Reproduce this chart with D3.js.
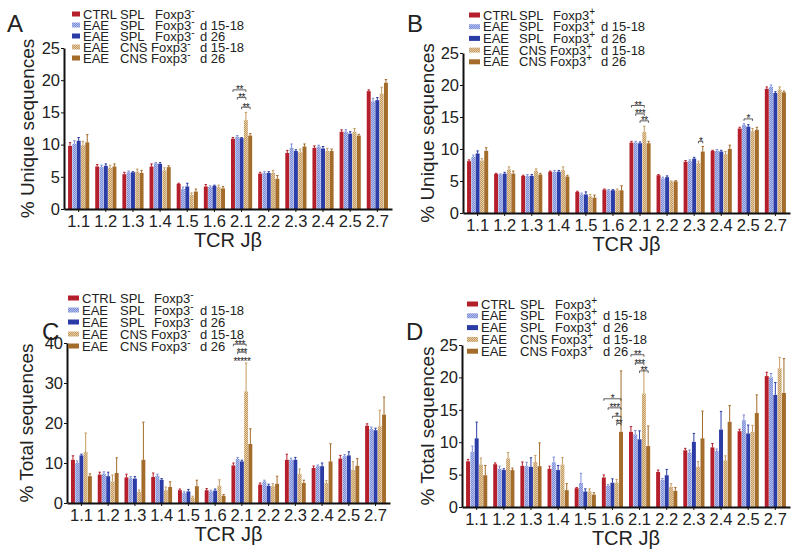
<!DOCTYPE html>
<html><head><meta charset="utf-8">
<script src="https://cdn.jsdelivr.net/npm/d3@7"></script>
<style>
body{margin:0;background:#fff}
text{font-family:"Liberation Sans",Arial,sans-serif;fill:#222}
</style>
</head><body>
<svg id="chart" width="800" height="556"></svg>
<script>
// ---------- DATA ----------
const groups = ["1.1","1.2","1.3","1.4","1.5","1.6","2.1","2.2","2.3","2.4","2.5","2.7"];
const seriesKeys = ["ctrl","eaeSpl1518","eaeSpl26","eaeCns1518","eaeCns26"];
const legendCol1 = ["CTRL","EAE","EAE","EAE","EAE"];
const legendCol2 = ["SPL","SPL","SPL","CNS","CNS"];
const legendCol4 = ["","d 15-18","d 26","d 15-18","d 26"];
const ticksUniqueA = [0,5,10,15,20,25];
const ticksUniqueB = [0,5,10,15,20,25];
const ticksTotalC = [0,10,20,30,40];
const ticksTotalD = [0,5,10,15,20,25];

// Panel A: % Unique sequences, Foxp3-
const A_ctrl  = [9.8,6.6,5.4,6.6,3.9,3.5,10.9,5.5,8.7,9.5,12.0,18.3];
const A_spl1518 = [10.1,6.5,5.7,7.1,3.1,3.4,11.2,5.6,9.5,9.7,12.0,16.7];
const A_spl26 = [10.6,6.7,5.7,7.0,3.5,3.6,11.0,5.6,9.0,9.4,11.7,16.9];
const A_cns1518 = [9.9,6.4,5.8,6.0,2.2,3.4,13.8,5.6,8.8,9.0,12.0,17.9];
const A_cns26 = [10.35,6.6,5.6,6.5,2.7,3.2,11.4,4.7,9.7,9.0,11.4,19.6];
const A_ctrlErr = [0.5,0.3,0.3,0.4,0.1,0.3,0.2,0.2,0.4,0.3,0.3,0.2];
const A_spl1518Err = [0.5,0.3,0.2,0.1,0.3,0.2,0.2,0.2,0.6,0.2,0.3,0.5];
const A_spl26Err = [0.5,0.3,0.1,0.2,0.5,0.1,0.1,0.2,0.2,0.3,0.3,0.4];
const A_cns1518Err = [0.6,0.4,0.4,0.4,0.3,0.3,1.2,0.4,0.5,0.4,0.5,1.0];
const A_cns26Err = [1.2,0.4,0.4,0.2,0.4,0.3,0.3,0.5,0.4,0.3,0.2,0.5];
const A_sig = [["2.1",0,3,"**",18.5],["2.1",1,3,"**",17.3],["2.1",2,4,"**",15.8]];

// Panel B: % Unique sequences, Foxp3+
const B_ctrl  = [8.1,6.1,5.8,6.45,3.3,3.65,11.0,5.9,8.0,9.7,13.2,19.4];
const B_spl1518 = [8.75,6.0,5.8,6.45,2.9,3.55,11.0,5.4,8.1,9.7,13.75,19.7];
const B_spl26 = [9.3,6.15,5.8,6.45,2.9,3.55,10.9,5.6,8.5,9.6,13.5,18.75];
const B_cns1518 = [8.2,6.8,6.6,6.7,2.6,3.55,12.65,4.9,7.8,9.2,12.8,19.3];
const B_cns26 = [9.7,6.15,6.0,5.7,2.4,3.55,10.9,4.95,9.6,10.0,13.0,18.85];
const B_ctrlErr = [0.2,0.1,0.1,0.1,0.1,0.1,0.2,0.1,0.2,0.1,0.2,0.3];
const B_spl1518Err = [0.3,0.1,0.2,0.2,0.2,0.1,0.2,0.2,0.2,0.2,0.2,0.3];
const B_spl26Err = [0.4,0.2,0.2,0.2,0.4,0.1,0.2,0.2,0.2,0.2,0.3,0.2];
const B_cns1518Err = [0.3,0.4,0.3,0.5,0.3,0.2,0.9,0.1,0.3,0.4,0.4,0.4];
const B_cns26Err = [0.5,0.4,0.2,0.2,0.4,0.7,0.3,0.1,0.8,0.6,0.4,0.2];
const B_sig = [["2.1",0,3,"**",16.8],["2.1",1,3,"***",15.5],["2.1",2,4,"**",14.4],["2.3",3,4,"*",11.2],["2.5",1,3,"*",14.7]];

// Panel C: % Total sequences, Foxp3-
const C_ctrl  = [10.8,7.1,6.4,6.5,3.2,3.2,9.4,4.6,10.8,8.75,11.1,19.3];
const C_spl1518 = [10.0,7.3,6.2,6.8,2.5,2.9,11.0,5.4,10.8,9.2,11.7,18.5];
const C_spl26 = [11.9,6.7,6.1,5.8,2.9,3.1,10.4,4.3,10.8,9.2,11.9,18.2];
const C_cns1518 = [12.75,5.4,2.75,3.2,1.4,4.3,27.9,4.2,7.3,5.0,8.3,19.2];
const C_cns26 = [6.7,7.5,10.8,4.0,4.2,1.8,14.75,4.8,5.0,10.4,9.3,22.1];
const C_ctrlErr = [1.0,0.6,0.8,1.0,0.3,0.4,0.6,0.4,1.4,0.5,0.8,0.5];
const C_spl1518Err = [0.5,0.5,0.4,0.4,0.3,0.3,0.4,0.3,0.4,0.3,0.4,0.5];
const C_spl26Err = [0.3,1.0,0.5,0.3,0.5,0.4,0.3,0.4,0.6,0.8,0.9,0.5];
const C_cns1518Err = [4.75,1.6,0.5,0.8,0.3,1.5,7.1,0.6,1.2,0.6,2.0,4.0];
const C_cns26Err = [0.6,3.8,9.4,1.3,1.5,0.3,3.8,1.9,0.7,4.4,1.8,4.4];
const C_sig = [["2.1",0,3,"***",39.7],["2.1",1,3,"***",37.7],["2.1",0,4,"*****",35.3,false]];

// Panel D: % Total sequences, Foxp3+
const D_ctrl  = [7.05,6.6,6.35,5.9,2.9,4.55,11.6,5.4,8.75,9.2,11.7,20.2];
const D_spl1518 = [8.5,5.9,6.3,6.9,3.7,3.25,11.2,4.2,8.4,8.65,13.4,20.0];
const D_spl26 = [10.6,5.7,6.2,5.7,2.4,3.75,10.45,4.9,10.05,11.95,11.35,17.3];
const D_cns1518 = [6.55,7.5,6.95,6.55,2.4,3.75,17.5,3.1,6.2,7.2,11.6,21.4];
const D_cns26 = [4.9,5.7,6.3,2.6,1.9,11.6,9.4,2.5,10.6,13.15,14.5,17.6];
const D_ctrlErr = [0.3,0.2,0.6,0.4,0.1,0.4,0.8,0.3,0.3,0.6,0.3,0.6];
const D_spl1518Err = [0.9,0.4,0.6,0.8,1.5,0.2,0.6,0.2,0.4,0.3,0.8,0.6];
const D_spl26Err = [2.5,0.2,1.4,0.7,0.4,0.6,1.3,0.9,1.3,2.8,1.3,1.9];
const D_cns1518Err = [1.0,0.9,1.0,1.1,0.4,0.5,3.6,0.5,0.8,0.7,1.0,1.7];
const D_cns26Err = [1.5,0.3,3.6,1.0,0.3,9.4,3.1,0.5,4.2,2.5,2.8,5.3];
const D_sig = [["1.6",0,4,"*",16.7],["1.6",1,4,"***",15.3],["1.6",2,4,"*",14.0],["1.6",3,4,"**",12.9],
               ["2.1",0,3,"**",23.5],["2.1",1,3,"***",22.2],["2.1",2,4,"**",21.0]];

// ---------- STYLE ----------
const svg = d3.select("#chart");
const defs = svg.append("defs");
function checker(id, base, light){
  const p = defs.append("pattern").attr("id",id).attr("patternUnits","userSpaceOnUse").attr("width",2).attr("height",2);
  p.append("rect").attr("width",2).attr("height",2).attr("fill",base);
  p.append("rect").attr("width",1).attr("height",1).attr("fill",light);
  p.append("rect").attr("x",1).attr("y",1).attr("width",1).attr("height",1).attr("fill",light);
}
checker("patBlue","#7a8cd6","#b4c0ee");
checker("patTan","#c39a5f","#e4cda6");
const fills = ["#b51f2c","url(#patBlue)","#2b3ca6","url(#patTan)","#a46c2a"];
const lineCols = ["#b51f2c","#7a8cd6","#2b3ca6","#c39a5f","#a46c2a"];

function drawPanel(cfg){
  const g = svg.append("g");
  const x = d3.scaleBand().domain(groups).range([cfg.x0,cfg.x1]).paddingInner(0.22).paddingOuter(0.15);
  const xs = d3.scaleBand().domain(d3.range(5)).range([0,x.bandwidth()]).paddingInner(0.08);
  const y = d3.scaleLinear().domain([0,cfg.max]).range([cfg.yb,cfg.yt]);

  cfg.means.forEach((arr,si)=>{
    const sg = g.append("g");
    sg.selectAll("rect").data(arr).join("rect")
      .attr("x",(d,i)=>x(groups[i])+xs(si))
      .attr("width",xs.bandwidth())
      .attr("y",d=>y(d))
      .attr("height",d=>y(0)-y(d))
      .attr("fill",fills[si]);
    sg.selectAll("path").data(arr).join("path")
      .attr("d",(d,i)=>{
        const cx = x(groups[i])+xs(si)+xs.bandwidth()/2;
        const top = y(d+cfg.errs[si][i]);
        return `M${cx},${y(d)}V${top}M${cx-1.2},${top}H${cx+1.2}`;
      })
      .attr("stroke",lineCols[si]).attr("stroke-width",1).attr("fill","none");
  });

  const ya = g.append("g").attr("transform",`translate(${cfg.x0},0)`)
    .call(d3.axisLeft(y).tickValues(cfg.ticks).tickSize(3).tickSizeOuter(0).tickPadding(1));
  const xa = g.append("g").attr("transform",`translate(0,${cfg.yb})`)
    .call(d3.axisBottom(x).tickSize(3).tickSizeOuter(0).tickPadding(3));
  [ya,xa].forEach(a=>{
    a.attr("font-family",null).attr("font-size",null);
    a.select(".domain").attr("stroke","#111").attr("stroke-width",2);
    a.selectAll(".tick line").attr("stroke","#111").attr("stroke-width",1);
    a.selectAll("text").style("font-size","16.5px").attr("fill","#222");
  });

  g.append("text").attr("transform",`translate(${cfg.ytx},${(cfg.yb+cfg.yt)/2}) rotate(-90)`)
    .attr("text-anchor","middle").style("font-size","19px").text(cfg.ytitle);
  g.append("text").attr("x",(cfg.x0+cfg.x1)/2).attr("y",cfg.yb+38).attr("text-anchor","middle")
    .style("font-size","20px").text("TCR Jβ");
  g.append("text").attr("x",cfg.lx).attr("y",cfg.ly).style("font-size","24px").text(cfg.letter);

  const L = cfg.leg;
  seriesKeys.forEach((k,i)=>{
    const cy = L.y0 + i*L.dy;
    g.append("rect").attr("x",L.sx).attr("y",cy-2.5).attr("width",L.tx-L.sx-3).attr("height",5).attr("fill",fills[i]);
    g.append("text").attr("x",L.tx).attr("y",cy+4.5).style("font-size","13px").text(legendCol1[i]);
    let t;
    if(legendCol2[i]==="CNS"){
      t = g.append("text").attr("x",L.c2).attr("y",cy+4.5).style("font-size","13px");
      t.append("tspan").text("CNS Foxp3");
    } else {
      g.append("text").attr("x",L.c2).attr("y",cy+4.5).style("font-size","13px").text(legendCol2[i]);
      t = g.append("text").attr("x",L.c3).attr("y",cy+4.5).style("font-size","13px");
      t.append("tspan").text("Foxp3");
    }
    t.append("tspan").attr("dy",-5).style("font-size","10px").text(cfg.sign);
    if(legendCol4[i]) g.append("text").attr("x",L.c4).attr("y",cy+4.5).style("font-size","13px").text(legendCol4[i]);
  });

  cfg.sig.forEach(s=>{
    const [grp,a,b,lab,lev,br] = s;
    const xa1 = x(grp)+xs(a)+xs.bandwidth()/2, xb1 = x(grp)+xs(b)+xs.bandwidth()/2;
    const yl = y(lev);
    if(br!==false) g.append("path").attr("d",`M${xa1},${yl+2}V${yl}H${xb1}V${yl+2}`)
      .attr("stroke","#333").attr("stroke-width",0.8).attr("fill","none");
    g.append("text").attr("x",(xa1+xb1)/2).attr("y",yl+3.5).attr("text-anchor","middle")
      .style("font-size","10px").style("letter-spacing","-0.5px").text(lab);
  });
}

drawPanel({x0:64,x1:392,yb:209,yt:48,max:25,ticks:ticksUniqueA,letter:"A",lx:7,ly:32,
  ytitle:"% Unique sequences",ytx:34,sign:"-",
  means:[A_ctrl,A_spl1518,A_spl26,A_cns1518,A_cns26],
  errs:[A_ctrlErr,A_spl1518Err,A_spl26Err,A_cns1518Err,A_cns26Err],sig:A_sig,
  leg:{sx:72,tx:83,c2:120,c3:155,c4:200,y0:14,dy:11}});
drawPanel({x0:463,x1:790,yb:213,yt:53,max:25,ticks:ticksUniqueB,letter:"B",lx:407,ly:32,
  ytitle:"% Unique sequences",ytx:434,sign:"+",
  means:[B_ctrl,B_spl1518,B_spl26,B_cns1518,B_cns26],
  errs:[B_ctrlErr,B_spl1518Err,B_spl26Err,B_cns1518Err,B_cns26Err],sig:B_sig,
  leg:{sx:469,tx:483,c2:519,c3:553,c4:601,y0:15,dy:11.7}});
drawPanel({x0:67,x1:390,yb:503,yt:343,max:40,ticks:ticksTotalC,letter:"C",lx:42,ly:340,
  ytitle:"% Total sequences",ytx:33,sign:"-",
  means:[C_ctrl,C_spl1518,C_spl26,C_cns1518,C_cns26],
  errs:[C_ctrlErr,C_spl1518Err,C_spl26Err,C_cns1518Err,C_cns26Err],sig:C_sig,
  leg:{sx:68,tx:82,c2:120,c3:154,c4:200,y0:298,dy:12}});
drawPanel({x0:462,x1:790,yb:507,yt:345,max:25,ticks:ticksTotalD,letter:"D",lx:406,ly:340,
  ytitle:"% Total sequences",ytx:434,sign:"+",
  means:[D_ctrl,D_spl1518,D_spl26,D_cns1518,D_cns26],
  errs:[D_ctrlErr,D_spl1518Err,D_spl26Err,D_cns1518Err,D_cns26Err],sig:D_sig,
  leg:{sx:467,tx:481,c2:520,c3:555,c4:603,y0:304,dy:11.8}});
</script>
</body></html>
